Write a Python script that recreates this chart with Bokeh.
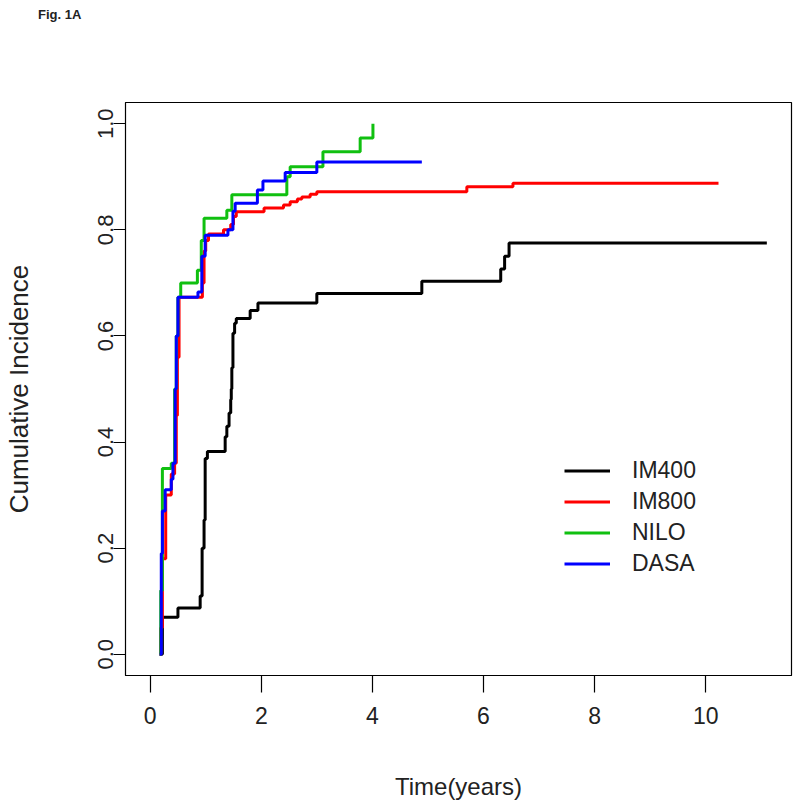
from bokeh.plotting import figure
from bokeh.layouts import column
from bokeh.models import (Range1d, FixedTicker, PrintfTickFormatter, Legend, LegendItem, Div)
from bokeh.embed import file_html
from bokeh.resources import INLINE

# ---- data ----
groups = ["IM400", "IM800", "NILO", "DASA"]
colors = ["#000000", "#ff0000", "#10c010", "#0000ff"]

im400_t = [0.17, 0.22, 0.50, 0.90, 0.935, 0.97, 0.99, 1.03, 1.35, 1.38, 1.42, 1.45, 1.46,
           1.47, 1.49, 1.52, 1.55, 1.80, 1.94, 3.00, 4.89, 6.31, 6.38, 6.46, 11.10]
im400_v = [0.0, 0.07, 0.087, 0.11, 0.20, 0.253, 0.369, 0.382, 0.41, 0.43, 0.455, 0.48, 0.50,
           0.54, 0.605, 0.624, 0.633, 0.648, 0.662, 0.68, 0.703, 0.726, 0.75, 0.775, 0.775]

im800_t = [0.17, 0.19, 0.22, 0.28, 0.38, 0.44, 0.47, 0.49, 0.52, 0.94, 0.97, 1.00, 1.05, 1.32,
           1.45, 1.50, 1.55, 2.05, 2.40, 2.52, 2.65, 2.73, 2.88, 3.00, 5.70, 6.53, 10.23]
im800_v = [0.0, 0.05, 0.18, 0.30, 0.34, 0.36, 0.45, 0.56, 0.673, 0.70, 0.76, 0.78, 0.792, 0.80,
           0.81, 0.825, 0.834, 0.841, 0.847, 0.853, 0.858, 0.862, 0.867, 0.872, 0.881, 0.888, 0.888]

nilo_t = [0.17, 0.19, 0.22, 0.38, 0.44, 0.47, 0.50, 0.55, 0.85, 0.92, 0.97, 1.38, 1.47, 2.46,
          2.52, 3.11, 3.78, 4.01]
nilo_v = [0.0, 0.12, 0.35, 0.36, 0.50, 0.60, 0.673, 0.70, 0.724, 0.78, 0.822, 0.837, 0.866, 0.90,
          0.919, 0.947, 0.973, 1.0]

dasa_t = [0.17, 0.20, 0.22, 0.27, 0.38, 0.41, 0.45, 0.47, 0.50, 0.86, 0.93, 0.99, 1.40, 1.49,
          1.53, 1.93, 2.03, 2.43, 3.00, 4.89]
dasa_v = [0.0, 0.19, 0.27, 0.31, 0.33, 0.36, 0.50, 0.60, 0.673, 0.683, 0.75, 0.79, 0.80, 0.835,
          0.85, 0.875, 0.892, 0.908, 0.928, 0.928]

x_ticks = [0, 2, 4, 6, 8, 10]
y_ticks = [0.0, 0.2, 0.4, 0.6, 0.8, 1.0]

FONT = "Liberation Sans"

header = Div(text="Fig. 1A", width=800, height=30, margin=(0, 0, 0, 0),
             styles={"font-family": FONT, "font-weight": "bold", "font-size": "13px",
                     "color": "#222222", "padding-top": "7px", "padding-left": "38px",
                     "line-height": "16px", "box-sizing": "border-box"})

p = figure(width=800, height=776, output_backend="svg", toolbar_location=None,
           x_range=Range1d(-0.444, 11.544), y_range=Range1d(-0.04, 1.04),
           min_border_left=124, min_border_right=9, min_border_top=72, min_border_bottom=131,
           margin=(0, 0, 0, 0))
p.grid.visible = False
p.outline_line_color = "black"
p.outline_line_width = 1.2
p.background_fill_color = "white"
p.border_fill_color = "white"

series = [(im400_t, im400_v), (im800_t, im800_v), (nilo_t, nilo_v), (dasa_t, dasa_v)]
renderers = []
for (t, v), c in zip(series, colors):
    r = p.step(t, v, mode="after", line_color=c, line_width=3)
    renderers.append(r)

# axes
p.xaxis.ticker = FixedTicker(ticks=x_ticks)
p.yaxis.ticker = FixedTicker(ticks=y_ticks)
p.yaxis.formatter = PrintfTickFormatter(format="%.1f")
for ax in (p.xaxis[0], p.yaxis[0]):
    ax.axis_line_color = "black"
    ax.major_tick_line_color = "black"
    ax.major_tick_line_width = 1.2
    ax.minor_tick_line_color = None
    ax.major_tick_in = 0
    ax.major_label_text_font = FONT
    ax.major_label_text_color = "#222222"
    ax.axis_label_text_font = FONT
    ax.axis_label_text_font_style = "normal"
    ax.axis_label_text_color = "#222222"

p.xaxis.major_tick_out = 17
p.xaxis.major_label_standoff = 14
p.xaxis.major_label_text_font_size = "23px"
p.xaxis.axis_label = "Time(years)"
p.xaxis.axis_label_text_font_size = "24px"
p.xaxis.axis_label_standoff = 46

p.yaxis.major_tick_out = 12
p.yaxis.major_label_standoff = 0
p.yaxis.major_label_orientation = "vertical"
p.yaxis.major_label_text_font_size = "22px"
p.yaxis.axis_label = "Cumulative Incidence"
p.yaxis.axis_label_text_font_size = "26px"
p.yaxis.axis_label_standoff = 62

legend = Legend(items=[LegendItem(label=g, renderers=[r]) for g, r in zip(groups, renderers)],
                location=(439, 96), border_line_color=None, background_fill_alpha=0,
                padding=0, margin=0, spacing=0, glyph_width=46, glyph_height=31,
                label_height=31, label_standoff=22,
                label_text_font=FONT, label_text_font_size="23px", label_text_color="#222222")
p.add_layout(legend)

layout = column(header, p, spacing=0, margin=(0, 0, 0, 0))

open("out.html", "w").write(file_html(layout, INLINE))
